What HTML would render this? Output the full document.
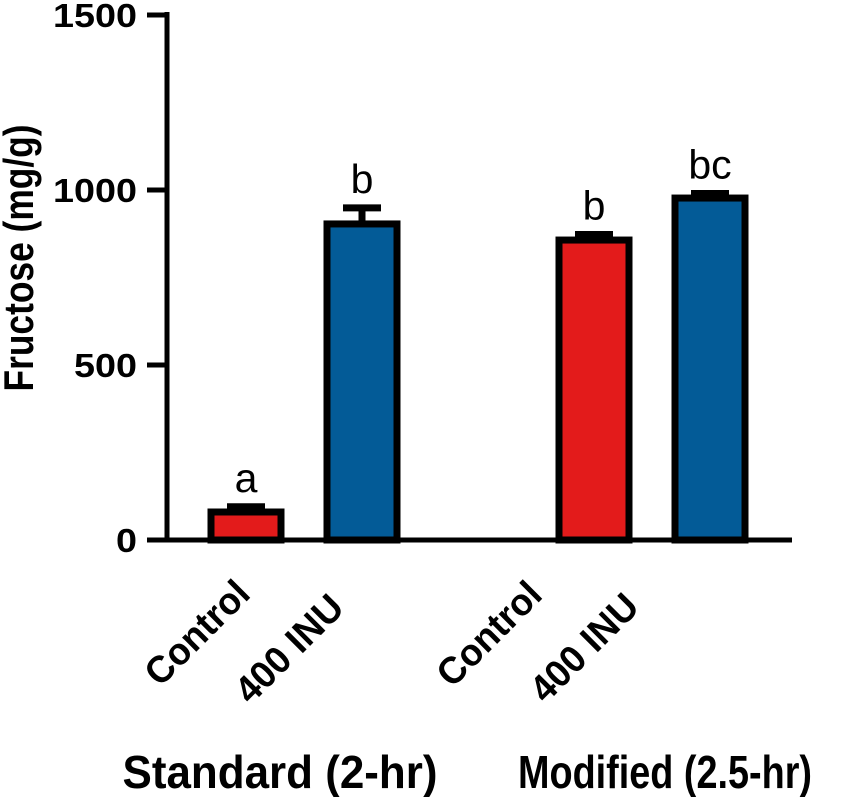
<!DOCTYPE html>
<html><head><meta charset="utf-8"><style>
html,body{margin:0;padding:0;background:#fff;}
svg{display:block;font-family:"Liberation Sans",Arial,sans-serif;}
</style></head><body>
<svg id="chart" width="850" height="797" viewBox="0 0 850 797" xmlns="http://www.w3.org/2000/svg">
<g id="axes"></g><g id="bars"></g><g id="labels"></g>
</svg>
<script>
const categories = ["Control","400 INU","Control","400 INU"];
const values = [80, 903, 857, 977];
const errors = [15, 46, 16, 13];
const letters = ["a","b","b","bc"];
const colors = ["#e31b1b","#035b97","#e31b1b","#035b97"];
const yTicks = [0,500,1000,1500];
const groups = ["Standard (2-hr)","Modified (2.5-hr)"];

const NS="http://www.w3.org/2000/svg";
const y0=540, yScale=525/1500;
const y=v=>y0-v*yScale;
const barCenters=[246,362,594,710];
const barW=70;
const labelOff=[[6,56],[-16,70],[-50,57],[-69,69]];
const labelLen=[130,135,130,135];
const groupX=[280,665];
const groupLen=[315,294];
function mk(tag,attrs,parent,text){const e=document.createElementNS(NS,tag);for(const k in attrs)e.setAttribute(k,attrs[k]);if(text!==undefined)e.textContent=text;parent.appendChild(e);return e;}
const axes=document.getElementById('axes'),bars=document.getElementById('bars'),labels=document.getElementById('labels');

const ya=mk('line',{x1:167,y1:y(1500)-3,x2:167,y2:y0+2.5,stroke:'#000','stroke-width':5},axes);


const xa=mk('line',{x1:147,y1:y0,x2:792,y2:y0,stroke:'#000','stroke-width':5},axes);


yTicks.forEach(t=>{
  const tk=mk('line',{x1:147,y1:y(t),x2:167,y2:y(t),stroke:'#000','stroke-width':5},axes);
  
  
  const s=String(t);
  const tl=mk('text',{x:137,y:y(t)+12,'text-anchor':'end','font-size':33,'font-weight':'bold',textLength:21*s.length,lengthAdjust:'spacingAndGlyphs'},axes,s);
  
  
});
const yt=mk('text',{x:0,y:0,'text-anchor':'middle','font-size':42,'font-weight':'bold',textLength:267,lengthAdjust:'spacingAndGlyphs',transform:'translate(33,258) rotate(-90)'},axes,'Fructose (mg/g)');



values.forEach((v,i)=>{
  const cx=barCenters[i];
  const top=y(v), et=y(v+errors[i]);
  const eb=mk('line',{x1:cx,y1:top,x2:cx,y2:et,stroke:'#000','stroke-width':7},bars);
  
  
  const cap=mk('line',{x1:cx-19,y1:et,x2:cx+19,y2:et,stroke:'#000','stroke-width':7},bars);
  
  
  const r=mk('rect',{x:cx-barW/2,y:top,width:barW,height:y0-top,fill:colors[i],stroke:'#000','stroke-width':7},bars);
  
  
  const lt=mk('text',{x:cx,y:et-15,'text-anchor':'middle','font-size':41},labels,letters[i]);
  
  
  const lx=cx+labelOff[i][0], ly=y0+labelOff[i][1];
  const cl=mk('text',{x:0,y:0,'text-anchor':'end','font-size':38,'font-weight':'bold',textLength:labelLen[i],lengthAdjust:'spacingAndGlyphs',transform:`translate(${lx},${ly}) rotate(-45)`},labels,categories[i]);
  
  
});
groups.forEach((g,i)=>{
  const gl=mk('text',{x:groupX[i],y:788,'text-anchor':'middle','font-size':46,'font-weight':'bold',textLength:groupLen[i],lengthAdjust:'spacingAndGlyphs'},labels,g);
  
  
});
</script>
</body></html>
